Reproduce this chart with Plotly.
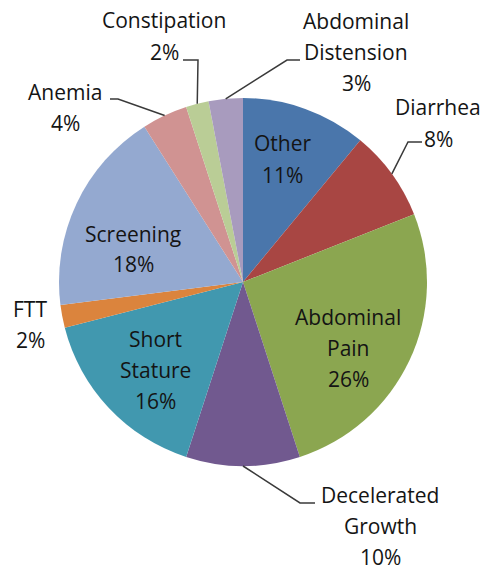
import math
import plotly.graph_objects as go

# slices, clockwise from 12 o'clock
categories = ["Other", "Diarrhea", "Abdominal Pain", "Decelerated Growth",
              "Short Stature", "FTT", "Screening", "Anemia", "Constipation",
              "Abdominal Distension"]
percents = [11, 8, 26, 10, 16, 2, 18, 4, 2, 3]
colors = ["#4A76AB", "#A84643", "#8BA650", "#71598F", "#4198AF",
          "#DB843D", "#94A9D0", "#D09392", "#BACD96", "#A89BBE"]

W, H = 485, 573
CX, CY, R = 243, 282, 184

# label centre (px) and leader stub (label side) for each slice
label_pos = {
    "Other": (282, 159),
    "Diarrhea": (438, 123),
    "Abdominal Pain": (348, 348),
    "Decelerated Growth": (380, 526),
    "Short Stature": (155, 370),
    "FTT": (30, 324),
    "Screening": (133, 249),
    "Anemia": (65, 107),
    "Constipation": (164, 36),
    "Abdominal Distension": (356, 52),
}
leader_stub = {
    "Diarrhea": [(422, 142), (408, 142)],
    "Abdominal Distension": [(300, 60), (287, 60)],
    "Constipation": [(183, 60), (198, 60)],
    "Anemia": [(110, 99), (118, 99)],
    "Decelerated Growth": [(315, 503), (300, 503)],
}
LINE_GAP = 31


def px(x):
    return x / W


def py(y):
    return 1 - y / H


fig = go.Figure(go.Pie(
    labels=categories,
    values=percents,
    sort=False,
    direction="clockwise",
    rotation=0,
    marker=dict(colors=colors, line=dict(width=0)),
    textinfo="none",
    hoverinfo="label+percent",
    domain=dict(x=[px(CX - R), px(CX + R)], y=[py(CY + R), py(CY - R)]),
))

annotations = []
shapes = []
total = sum(percents)
cum = 0
for name, v in zip(categories, percents):
    mid = (cum + v / 2) / total * 2 * math.pi
    cum += v
    lines = name.split(" ") + [f"{v}%"]
    lx, ly = label_pos[name]
    top = ly - LINE_GAP * (len(lines) - 1) / 2
    for i, t in enumerate(lines):
        annotations.append(dict(
            x=px(lx), y=py(top + i * LINE_GAP), xref="paper", yref="paper",
            text=t, showarrow=False, xanchor="center", yanchor="middle",
            font=dict(family="Open Sans", size=21, color="#141414"),
        ))
    if name in leader_stub:
        ex = CX + R * math.sin(mid)
        ey = CY - R * math.cos(mid)
        pts = leader_stub[name] + [(ex, ey)]
        path = "M " + " L ".join(f"{px(a)},{py(b)}" for a, b in pts)
        shapes.append(dict(type="path", xref="paper", yref="paper", path=path,
                           line=dict(color="#3a3a3a", width=1.5)))

fig.update_layout(
    width=W, height=H,
    margin=dict(l=0, r=0, t=0, b=0),
    paper_bgcolor="white",
    showlegend=False,
    annotations=annotations,
    shapes=shapes,
)

# page body has a default margin; remove it so the figure sits at 0,0
fig.write_html("out.html", config={"displayModeBar": False},
               post_script="document.body.style.margin='0';")
